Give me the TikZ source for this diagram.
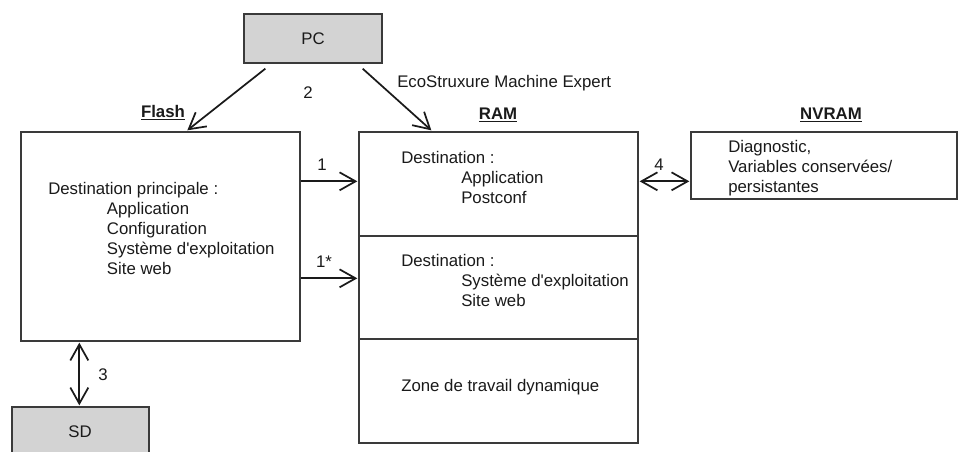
\documentclass[tikz,border=0pt]{standalone}
\usepackage{fontspec}
\setmainfont{Liberation Sans}[Ligatures=TeXOff]
\usetikzlibrary{arrows.meta,fit,calc}
\definecolor{boxfill}{HTML}{D3D3D3}
\definecolor{edge}{HTML}{3A3A3A}
\definecolor{ink}{HTML}{1A1A1A}
\tikzset{
  box/.style={draw=edge, line width=1pt, inner sep=0pt},
  grey/.style={box, fill=boxfill},
  txt/.style={inner sep=0pt, text=ink, font=\fontsize{12.6}{15}\selectfont, align=left},
  ttl/.style={inner sep=0pt, text=ink, font=\fontsize{12.6}{14}\selectfont\bfseries},
  arr/.style={draw=ink, line width=1.3pt, -{Straight Barb[length=12pt,width=13.5pt,line width=1.3pt]}},
  darr/.style={draw=ink, line width=1.3pt, {Straight Barb[length=12pt,width=13.5pt,line width=1.3pt]}-{Straight Barb[length=12pt,width=13.5pt,line width=1.3pt]}}
}
\begin{document}
\begin{tikzpicture}[x=0.75pt,y=-0.75pt]
\clip (0,0) rectangle (958,451);
\fill[white] (0,0) rectangle (958,451);
% boxes
\node[grey, fit={(244,14) (382,63)}] (PC) {};
\node[txt] (pcl) at (PC.center) {PC};
\node[box, fit={(21,132) (300,341)}] (Flash) {};
\node[box, fit={(359,132) (638,443)}] (RAM) {};
\node[box, fit={(691,132) (957,199)}] (NVRAM) {};
\node[grey, fit={(12,407) (149,470)}] (SD) {};
\node[txt] (sdl) at (80,432) {SD};
% RAM dividers
\draw[edge, line width=1pt] (RAM.west |- 0,236) -- (RAM.east |- 0,236);
\draw[edge, line width=1pt] (RAM.west |- 0,339) -- (RAM.east |- 0,339);
% titles
\node[ttl] (tflash) at (163,113) {\underline{Flash}};
\node[ttl] (tram) at (498,115) {\underline{RAM}};
\node[ttl] (tnv) at (831,115) {\underline{NVRAM}};
% texts
\node[txt, anchor=west] (ftext) at (48,228) {Destination principale :\\
\hspace*{44pt}Application\\
\hspace*{44pt}Configuration\\
\hspace*{44pt}Système d'exploitation\\
\hspace*{44pt}Site web};
\node[txt, anchor=west] (r1) at (401,177) {Destination :\\
\hspace*{45pt}Application\\
\hspace*{45pt}Postconf};
\node[txt, anchor=west] (r2) at (401,280) {Destination :\\
\hspace*{45pt}Système d'exploitation\\
\hspace*{45pt}Site web};
\node[txt, anchor=west] (r3) at (401,387) {Zone de travail dynamique};
\node[txt, anchor=west] (nv) at (728,168) {Diagnostic,\\
Variables conservées/\\
persistantes};
\node[txt, anchor=west] (eco) at (397,83) {EcoStruxure Machine Expert};
% arrows
\draw[arr] ($(PC.south west)+(22,5)$) -- ($(Flash.north west)+(167,-1)$);
\draw[arr] ($(PC.south east)+(-20,5)$) -- ($(RAM.north west)+(73,-1)$);
\node[txt] (l2) at (308,93) {2};
\draw[arr] ($(Flash.north east)+(0,50)$) -- ($(RAM.north west)+(-1,50)$);
\node[txt] (l1) at (322,165) {1};
\draw[arr] ($(Flash.north east)+(0,147)$) -- ($(RAM.north west)+(-1,147)$);
\node[txt] (l1s) at (324,262) {1*};
\draw[darr] ($(RAM.north east)+(1,50)$) -- ($(NVRAM.north west)+(-1,50)$);
\node[txt] (l4) at (659,165) {4};
\draw[darr] ($(Flash.south west)+(59,1)$) -- ($(SD.north west)+(68,-1)$);
\node[txt] (l3) at (103,375) {3};
\end{tikzpicture}
\end{document}
